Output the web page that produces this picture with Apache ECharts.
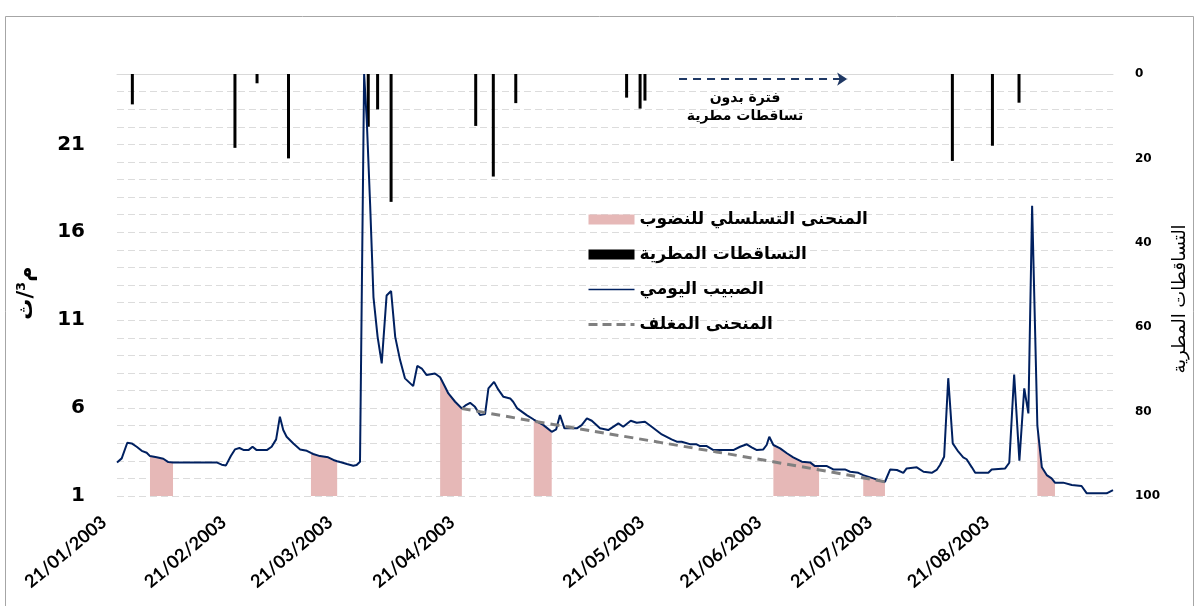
<!DOCTYPE html>
<html>
<head>
<meta charset="utf-8">
<script src="https://cdn.jsdelivr.net/npm/echarts@6/dist/echarts.min.js"></script>
<style>
html,body{margin:0;padding:0;background:#fff;}
#chart{width:1201px;height:606px;}
</style>
</head>
<body>
<div id="chart"></div>
<script>
// x positions are day indices along the record (0 = 21/01/2003)
const tickDays = [0, 32, 60.4, 93, 143.7, 175, 204.6, 235.8];
const tickLabels = ['21/01/2003','21/02/2003','21/03/2003','21/04/2003','21/05/2003','21/06/2003','21/07/2003','21/08/2003'];

// daily discharge (m3/s)
const flowDays = [0,1.26,2.75,3.93,5.26,6.6,7.93,8.81,10.6,12.37,13.7,14.96,26.6,27.96,29.1,30.4,31.5,32.7,33.9,35.1,36.2,37.3,40,41.3,42.5,43.5,44.4,45.3,47.1,48.9,50.7,51.8,52.4,54.2,56.4,57.8,58.8,59.6,61.4,63.1,64.0,64.9,66.0,66.7,67.6,68.5,69.6,70.7,72.0,73.2,74.3,75.6,76.9,79.1,80.2,81.4,82.7,84.9,86.3,87.6,88.5,90.3,92.1,93.2,94.3,95.6,97.0,98.3,99.2,100.7,101.8,103.2,105.0,105.8,106.9,109.4,111.3,113.9,116.1,117.3,118.3,119.5,122.8,124.1,125.5,126.8,129.0,131.2,133.9,135.2,137.2,138.8,141.0,142.8,145.5,148.1,149.5,150.8,153.0,154.8,155.7,157.5,159.3,164.6,166.4,168.2,169.5,170.9,172.6,173.5,174.2,175.3,177.1,178.9,180.6,182.9,185.1,186.4,187.5,189.6,191.3,194.4,195.8,198.0,199.3,202.0,203.8,205.1,206.5,208.3,210.0,210.9,213.6,215.4,217.6,218.9,219.8,220.9,222.0,223.2,224.7,226.0,226.9,228.3,229.2,232.7,233.6,237.2,238.3,239.6,241.0,242.3,243.4,244.4,245.8,247.0,248.3,249.6,250.5,252.7,255.0,257.6,259.0,264.3,266.0];
const flowValues = [2.91,3.14,4.03,3.99,3.80,3.57,3.46,3.27,3.20,3.12,2.93,2.91,2.91,2.78,2.74,3.27,3.65,3.73,3.61,3.61,3.80,3.61,3.61,3.80,4.22,5.51,4.75,4.37,3.99,3.65,3.57,3.45,3.39,3.27,3.20,3.05,2.98,2.93,2.82,2.72,2.76,2.95,25,22.4,17.6,12.3,10.05,8.54,12.4,12.66,10.05,8.73,7.69,7.25,8.40,8.25,7.88,7.97,7.75,7.21,6.83,6.36,5.98,6.17,6.30,6.07,5.60,5.66,7.12,7.49,7.06,6.64,6.55,6.36,5.98,5.60,5.35,5.03,4.65,4.79,5.60,4.85,4.85,5.03,5.41,5.28,4.85,4.75,5.13,4.94,5.28,5.17,5.22,4.94,4.50,4.22,4.09,4.09,3.95,3.94,3.84,3.84,3.61,3.61,3.80,3.94,3.77,3.61,3.65,3.90,4.37,3.90,3.71,3.43,3.20,2.95,2.91,2.70,2.70,2.70,2.51,2.51,2.38,2.32,2.19,2.00,1.87,1.81,2.51,2.48,2.32,2.57,2.63,2.38,2.32,2.48,2.76,3.23,7.70,3.99,3.52,3.20,3.09,2.63,2.32,2.32,2.51,2.57,2.89,7.90,3.01,7.12,5.70,17.5,5.00,2.63,2.19,2.00,1.76,1.76,1.63,1.57,1.15,1.15,1.34];

// recession segments (start / end day)
const recessionStart = [8.81, 51.8, 86.3, 111.3, 175.3, 199.3, 245.8];
const recessionEnd   = [14.96, 58.8, 92.1, 116.1, 187.5, 205.1, 250.5];

// envelope (master recession) curve
const envelopeDays = [92.1, 116.1, 145.0, 175.2, 205.1];
const envelopeValues = [5.98, 5.08, 4.05, 2.95, 1.81];

// rainfall (mm)
const rainDays = [4.1, 31.5, 37.4, 45.8, 67.1, 69.6, 73.2, 95.8, 100.5, 106.5, 136.1, 139.7, 141.0, 223.1, 233.8, 240.9];
const rainValues = [7.2, 17.5, 2.2, 20.0, 12.5, 8.4, 30.3, 12.3, 24.3, 6.9, 5.6, 8.2, 6.3, 20.6, 17.0, 6.8];

// dry-period arrow (day range, rain-axis level)
const arrowDays = [150.1, 195.0];
const arrowLevel = 1.2;

const names = {
  rec: 'المنحنى التسلسلي للنضوب',
  rain: 'التساقطات المطرية',
  flow: 'الصبيب اليومي',
  env: 'المنحنى المغلف'
};

const flowData = flowDays.map((d, i) => [d, flowValues[i]]);
const recData = flowDays.map((d, i) => {
  const inside = recessionStart.some((s, k) => d >= s - 1e-6 && d <= recessionEnd[k] + 1e-6);
  return [d, inside ? flowValues[i] : null];
});
const envData = envelopeDays.map((d, i) => [d, envelopeValues[i]]);
const rainData = rainDays.map((d, i) => [d, rainValues[i]]);

const hiddenSymbol = {color: 'rgba(0,0,0,0)', borderWidth: 0, opacity: 0};

const chart = echarts.init(document.getElementById('chart'), null, {renderer: 'canvas'});
const option = {
  animation: false,
  backgroundColor: '#ffffff',
  grid: {left: 117, right: 88, top: 74, bottom: 110, containLabel: false},
  legend: {
    orient: 'vertical',
    left: 582,
    top: 206,
    itemWidth: 46,
    itemHeight: 10,
    itemGap: 18,
    textStyle: {fontFamily: 'DejaVu Sans', fontWeight: 'bold', fontSize: 17, color: '#000'},
    data: [
      {name: names.rec, icon: 'rect', itemStyle: {color: '#e6b8b7'}},
      {name: names.rain, icon: 'rect', itemStyle: {color: '#000000'}},
      {name: names.flow, itemStyle: hiddenSymbol, lineStyle: {width: 1.5, color: '#002060'}},
      {name: names.env, itemStyle: hiddenSymbol, lineStyle: {width: 3, color: '#808080', type: [9, 5]}}
    ]
  },
  xAxis: {
    type: 'value',
    min: 0,
    max: 266,
    splitLine: {show: false},
    axisLine: {show: true, lineStyle: {color: '#d9d9d9', width: 1}},
    axisTick: {show: false},
    axisLabel: {
      customValues: tickDays,
      rotate: 40,
      margin: 13,
      padding: [0, 17, 0, 0],
      fontFamily: 'Lato',
      fontWeight: 'bold',
      fontSize: 18,
      color: '#000',
      formatter: function (v) {
        let best = 0, bd = Infinity;
        tickDays.forEach((t, i) => { const dd = Math.abs(t - v); if (dd < bd) { bd = dd; best = i; } });
        return tickLabels[best];
      }
    }
  },
  yAxis: [
    {
      type: 'value',
      min: 1,
      max: 25,
      interval: 1,
      name: 'م³/ث',
      nameLocation: 'middle',
      nameRotate: 90,
      nameGap: 80,
      nameTextStyle: {fontFamily: 'DejaVu Sans', fontWeight: 'bold', fontSize: 21, color: '#000', padding: [0, 16, 0, 0]},
      axisLine: {show: false},
      axisTick: {show: false},
      splitLine: {show: true, lineStyle: {color: '#dcdcdc', type: [7, 4], width: 1}},
      axisLabel: {
        margin: 32,
        fontFamily: 'DejaVu Sans',
        fontWeight: 'bold',
        fontSize: 20,
        color: '#000',
        formatter: function (v) { return (Math.round(v) - 1) % 5 === 0 ? String(Math.round(v)) : ''; }
      }
    },
    {
      type: 'value',
      min: 0,
      max: 100,
      interval: 20,
      inverse: true,
      position: 'right',
      name: 'التساقطات المطرية',
      nameLocation: 'middle',
      nameRotate: 90,
      nameGap: 32,
      nameTextStyle: {fontFamily: 'DejaVu Sans', fontSize: 18, color: '#000', padding: [0, 28, 0, 0]},
      axisLine: {show: false},
      axisTick: {show: false},
      splitLine: {show: false},
      axisLabel: {
        margin: 22,
        fontFamily: 'DejaVu Sans',
        fontWeight: 'bold',
        fontSize: 12,
        color: '#000'
      }
    }
  ],
  series: [
    {
      name: names.rec,
      type: 'line',
      data: recData,
      symbol: 'none',
      connectNulls: false,
      lineStyle: {width: 0, color: '#e6b8b7'},
      itemStyle: {color: '#e6b8b7'},
      areaStyle: {color: '#e6b8b7', opacity: 1, origin: 'start'},
      z: 1
    },
    {
      name: names.rain,
      type: 'bar',
      yAxisIndex: 1,
      data: rainData,
      barWidth: 3,
      itemStyle: {color: '#000000'},
      z: 3,
      markLine: {
        silent: true,
        symbol: ['none', 'arrow'],
        symbolSize: 10,
        label: {show: false},
        lineStyle: {color: '#1f3864', width: 2, type: [8, 6]},
        data: [[{coord: [arrowDays[0], arrowLevel]}, {coord: [arrowDays[1], arrowLevel]}]]
      }
    },
    {
      name: names.flow,
      type: 'line',
      data: flowData,
      symbol: 'none',
      lineStyle: {color: '#002060', width: 2},
      itemStyle: {color: '#002060'},
      z: 4
    },
    {
      name: names.env,
      type: 'line',
      data: envData,
      symbol: 'none',
      smooth: true,
      lineStyle: {color: '#808080', width: 3, type: [9, 6]},
      itemStyle: {color: '#808080'},
      z: 5
    }
  ],
  graphic: [
    {
      type: 'rect',
      shape: {x: 5.5, y: 16.5, width: 1188, height: 620},
      style: {fill: null, stroke: '#a6a6a6', lineWidth: 1},
      silent: true,
      z: -1
    },
    {
      type: 'text',
      x: 745,
      y: 98,
      style: {
        text: 'فترة بدون',
        align: 'center',
        verticalAlign: 'middle',
        fontFamily: 'DejaVu Sans',
        fontWeight: 'bold',
        fontSize: 14,
        fill: '#000'
      }
    },
    {
      type: 'text',
      x: 745,
      y: 116,
      style: {
        text: 'تساقطات مطرية',
        align: 'center',
        verticalAlign: 'middle',
        fontFamily: 'DejaVu Sans',
        fontWeight: 'bold',
        fontSize: 14,
        fill: '#000'
      }
    }
  ]
};
chart.setOption(option);
</script>
</body>
</html>
